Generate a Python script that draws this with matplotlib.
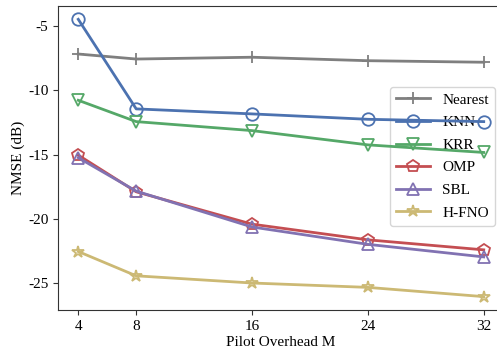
import matplotlib
matplotlib.use("Agg")
import matplotlib.pyplot as plt

plt.rcParams['font.family'] = ['Liberation Serif', 'DejaVu Serif']
plt.rcParams['axes.unicode_minus'] = False

pilots = [4, 8, 16, 24, 32]
nearest = [-7.18, -7.57, -7.43, -7.70, -7.82]
knn = [-4.48, -11.45, -11.84, -12.26, -12.44]
krr = [-10.78, -12.44, -13.14, -14.25, -14.84]
omp = [-15.05, -17.90, -20.42, -21.64, -22.42]
sbl = [-15.25, -17.85, -20.64, -21.99, -22.97]
hfno = [-22.55, -24.44, -25.00, -25.34, -26.06]

series = [
    ("Nearest", nearest, "#7f7f7f", "+"),
    ("KNN", knn, "#4c72b0", "o"),
    ("KRR", krr, "#55a868", "v"),
    ("OMP", omp, "#c44e52", "p"),
    ("SBL", sbl, "#8172b2", "^"),
    ("H-FNO", hfno, "#ccb974", "*"),
]

fig = plt.figure(figsize=(4.97, 3.49), dpi=100)
ax = fig.add_axes([58/497, 1-310/349, 446/497, (310-5.7)/349])

for name, vals, col, mk in series:
    ax.plot(pilots, vals, color=col, marker=mk, markersize=9, linewidth=2,
            markerfacecolor='none', markeredgewidth=1.3, label=name, zorder=3)

ax.set_xlim(2.6, 33.4)
ax.set_ylim(-27.1, -3.42)
ax.set_xticks(pilots)
ax.set_yticks([-5, -10, -15, -20, -25])
ax.set_yticklabels(['-5', '-10', '-15', '-20', '-25'])
ax.tick_params(labelsize=11, length=3.5, color='#333333')
for s in ax.spines.values():
    s.set_color('#333333')
ax.set_xlabel("Pilot Overhead M", fontsize=11, labelpad=2)
ax.set_ylabel("NMSE (dB)", fontsize=11, labelpad=2)

leg = ax.legend(loc='upper right', bbox_to_anchor=(495/497, 1-87/349),
                bbox_transform=fig.transFigure, fontsize=11, framealpha=0.8,
                handlelength=2.2, labelspacing=0.58, borderaxespad=0)
leg.set_zorder(1)

fig.savefig("out.png", dpi=100)
